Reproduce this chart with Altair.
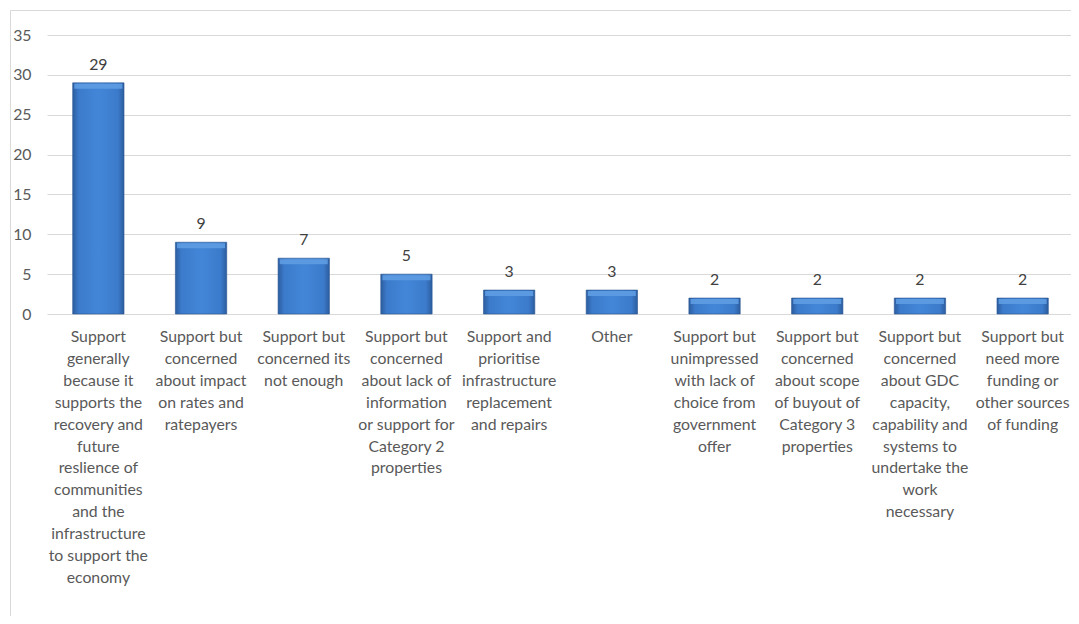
import altair as alt
import pandas as pd

categories = [
    "Support|generally|because it|supports the|recovery and|future|reslience of|communities|and the|infrastructure|to support the|economy",
    "Support but|concerned|about impact|on rates and|ratepayers",
    "Support but|concerned its|not enough",
    "Support but|concerned|about lack of|information|or support for|Category 2|properties",
    "Support and|prioritise|infrastructure|replacement|and repairs",
    "Other",
    "Support but|unimpressed|with lack of|choice from|government|offer",
    "Support but|concerned|about scope|of buyout of|Category 3|properties",
    "Support but|concerned|about GDC|capacity,|capability and|systems to|undertake the|work|necessary",
    "Support but|need more|funding or|other sources|of funding",
]
counts = [29, 9, 7, 5, 3, 3, 2, 2, 2, 2]
y_ticks = [0, 5, 10, 15, 20, 25, 30, 35]

df = pd.DataFrame({"category": categories, "count": counts})

FONT = "Lato"
TXT = "#595959"
FS = 15.8

xscale = alt.Scale(range=[0, 1027], paddingInner=0.5, paddingOuter=0.25)
yscale = alt.Scale(domain=[0, 35], nice=False)

x_axis = alt.Axis(
    title=None,
    labelAngle=0,
    labelExpr="split(datum.label, '|')",
    labelFont=FONT,
    labelFontSize=FS,
    labelColor=TXT,
    labelLineHeight=21.9,
    labelPadding=15.5,
    labelLimit=0,
    labelBaseline="top",
    ticks=False,
    domain=False,
    grid=False,
)
y_axis = alt.Axis(
    title=None,
    values=y_ticks,
    labelFont=FONT,
    labelFontSize=FS,
    labelColor=TXT,
    labelPadding=16,
    labelOverlap=False,
    ticks=False,
    domain=False,
    grid=True,
    gridColor="#d9d9d9",
    gridWidth=1,
)

x_enc = alt.X("category:N", sort=None, scale=xscale, axis=x_axis)
y_enc = alt.Y("count:Q", scale=yscale, axis=y_axis)

bar_fill = alt.LinearGradient(
    gradient="linear",
    x1=0, x2=1, y1=0, y2=0,
    stops=[
        alt.GradientStop(offset=0, color="#2c5d9f"),
        alt.GradientStop(offset=0.12, color="#3c7bcb"),
        alt.GradientStop(offset=0.5, color="#4386d8"),
        alt.GradientStop(offset=0.88, color="#3c7bcb"),
        alt.GradientStop(offset=1, color="#2c5d9f"),
    ],
)

bars = alt.Chart(df).mark_bar(
    fill=bar_fill, stroke="#2a5592", strokeWidth=0.6
).encode(x=x_enc, y=y_enc)

bevel = alt.Chart(df).mark_tick(
    color="#5e9ce2", thickness=5, size=48, yOffset=3.5, opacity=0.9
).encode(x=x_enc, y=y_enc)

labels = alt.Chart(df).mark_text(
    font=FONT, fontSize=FS, color="#404040", baseline="alphabetic", dy=-13
).encode(x=x_enc, y=y_enc, text="count:Q")

frame = alt.Chart(pd.DataFrame({"a": [0]})).mark_rect(
    fill="transparent", stroke="#d9d9d9", strokeWidth=1
).encode(
    x=alt.value(-36.5), x2=alt.value(1100), y=alt.value(-24.5), y2=alt.value(700)
)

chart = alt.layer(frame, bars, bevel, labels).properties(
    width=1024,
    height=279,
    background="white",
    autosize=alt.AutoSizeParams(type="none"),
    padding={"left": 39, "top": 27, "right": 0, "bottom": 302},
).configure_view(stroke=None)

chart.save("out.html", embed_options={"renderer": "svg", "actions": False})
